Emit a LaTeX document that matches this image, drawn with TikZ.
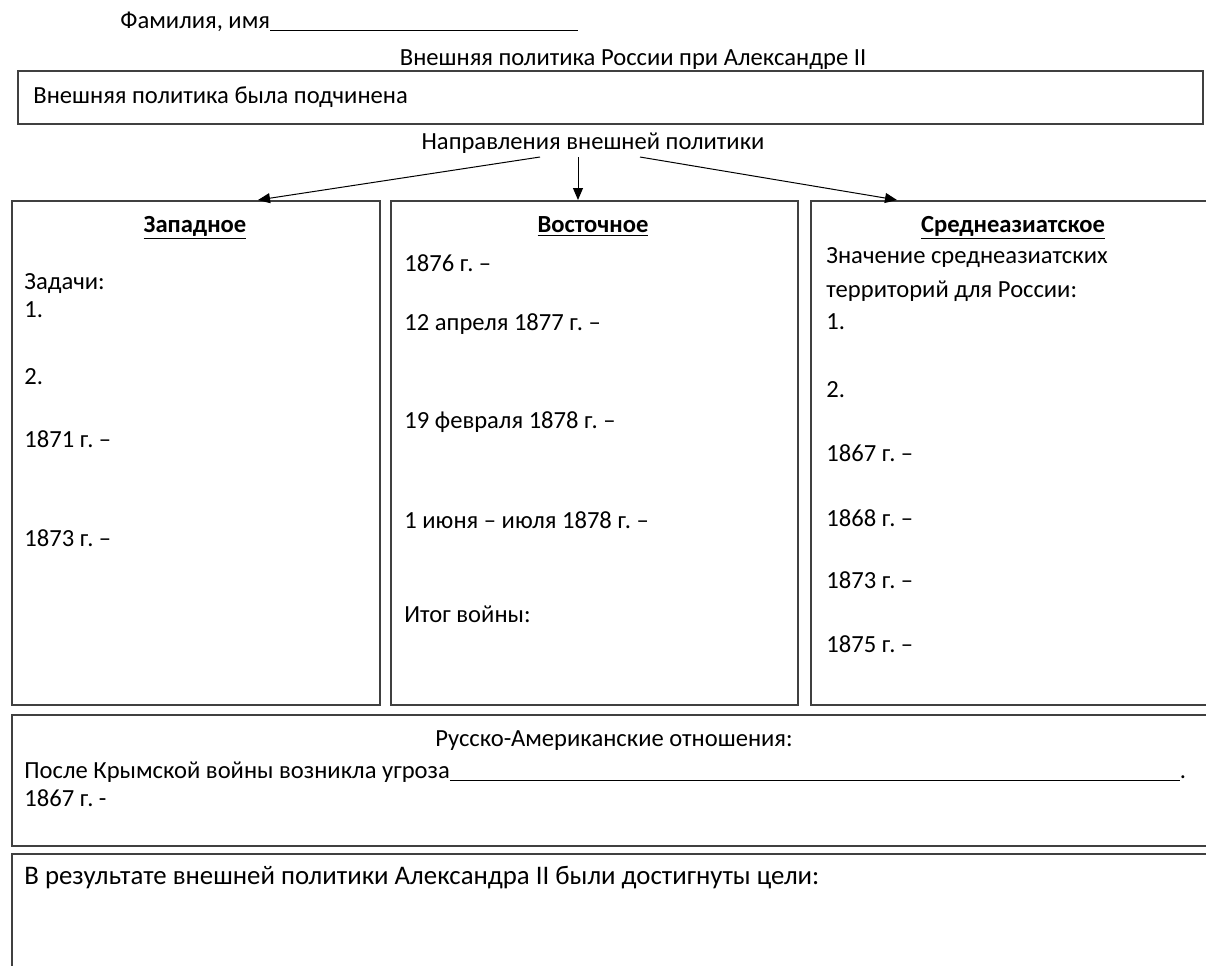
\documentclass[tikz,border=0pt]{standalone}
\usepackage{fontspec}
\setmainfont{Carlito}
\usetikzlibrary{arrows.meta, positioning}

\tikzset{
  frame/.style={draw=black!75, line width=0.8pt, inner sep=0pt, anchor=north west},
  txt/.style={anchor=west, inner sep=0pt, text height=9pt, text depth=3pt,
    font=\fontsize{12.3}{15}\selectfont},
  mid/.style={txt, anchor=center},
  head/.style={mid, font=\fontsize{12.3}{15}\selectfont\bfseries},
  link/.style={-{Triangle[length=6pt,width=5pt]}, line width=0.5pt},
}

\begin{document}
\frenchspacing
\begin{tikzpicture}[x=0.5pt, y=-0.5pt]
\clip (0,0) rectangle (1206,965);

% header
\node[txt] (name) at (120,22) {Фамилия, имя\underline{\hspace{154pt}}};
\node[mid] (title) at (633,59) {Внешняя политика России при Александре II};
\node[frame, minimum width=592.5pt, minimum height=26.5pt] (aim) at (17,70) {};
\node[txt] (aimtxt) at (33,97) {Внешняя политика была подчинена};
\node[mid] (dirs) at (593,143) {Направления внешней политики};

% three directions
\node[frame, minimum width=184pt, minimum height=252pt] (west) at (11,200) {};
\node[frame, minimum width=203.5pt, minimum height=252pt] (east) at (390,200) {};
\node[frame, minimum width=205pt, minimum height=252pt] (asia) at (810,200) {};

\coordinate (s1) at (540,157);
\coordinate (s2) at (578,157);
\coordinate (s3) at (640,157);
\coordinate (t1) at (258,200);
\coordinate (t2) at (578,200);
\coordinate (t3) at (897,200);
\draw[link] (s1) -- (t1);
\draw[link] (s2) -- (t2);
\draw[link] (s3) -- (t3);

% west
\node[head] (westh) at (195,226) {\underline{Западное}};
\node[txt] (w1) at (24,283) {Задачи:};
\node[txt] (w2) at (24,311) {1.};
\node[txt] (w3) at (24,378) {2.};
\node[txt] (w4) at (24,441) {1871 г. –};
\node[txt] (w5) at (24,540) {1873 г. –};

% east
\node[head] (easth) at (593,226) {\underline{Восточное}};
\node[txt] (e1) at (404,265) {1876 г. –};
\node[txt] (e2) at (404,324) {12 апреля 1877 г. –};
\node[txt] (e3) at (404,422) {19 февраля 1878 г. –};
\node[txt] (e4) at (404,522) {1 июня – июля 1878 г. –};
\node[txt] (e5) at (404,616) {Итог войны:};

% central asia
\node[head] (asiah) at (1013,226) {\underline{Среднеазиатское}};
\node[txt] (a1) at (826,257) {Значение среднеазиатских};
\node[txt] (a2) at (826,291) {территорий для России:};
\node[txt] (a3) at (826,323) {1.};
\node[txt] (a4) at (826,391) {2.};
\node[txt] (a5) at (826,455) {1867 г. –};
\node[txt] (a6) at (826,520) {1868 г. –};
\node[txt] (a7) at (826,582) {1873 г. –};
\node[txt] (a8) at (826,646) {1875 г. –};

% usa
\node[frame, minimum width=604.5pt, minimum height=65.5pt] (usa) at (11,714) {};
\node[mid] (usah) at (614,740) {Русско-Американские отношения:};
\node[txt] (u1) at (24,772) {После Крымской войны возникла угроза\underline{\hspace{365pt}}.};
\node[txt] (u2) at (24,800) {1867 г. -};

% result
\node[frame, minimum width=604.5pt, minimum height=68.5pt] (result) at (11,853) {};
\node[txt, font=\fontsize{13.4}{16}\selectfont] (r1) at (24,878)
  {В результате внешней политики Александра II были достигнуты цели:};
\end{tikzpicture}
\end{document}
